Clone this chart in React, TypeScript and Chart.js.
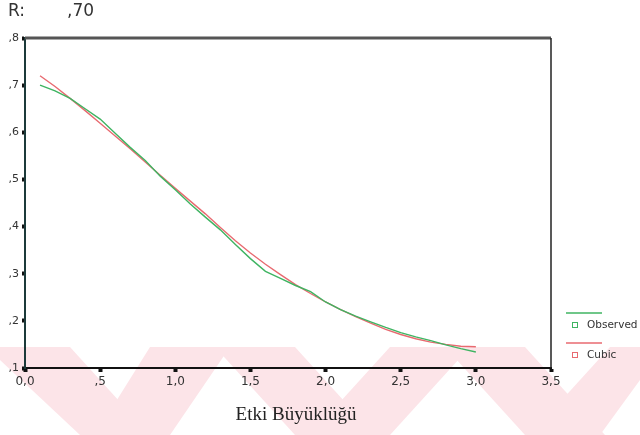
import React, { useEffect, useRef } from "react";
import { Chart, registerables } from "chart.js";

Chart.register(...registerables);

const xValues = [0.1, 0.2, 0.3, 0.4, 0.5, 0.6, 0.7, 0.8, 0.9, 1.0, 1.1, 1.2, 1.3, 1.4, 1.5, 1.6, 1.7, 1.8, 1.9, 2.0, 2.1, 2.2, 2.3, 2.4, 2.5, 2.6, 2.7, 2.8, 2.9, 3.0];
const observed = [0.700, 0.688, 0.672, 0.650, 0.628, 0.598, 0.568, 0.540, 0.507, 0.478, 0.448, 0.420, 0.393, 0.362, 0.332, 0.305, 0.290, 0.275, 0.262, 0.240, 0.224, 0.210, 0.198, 0.186, 0.175, 0.166, 0.158, 0.149, 0.141, 0.134];
const cubic = [0.720, 0.697, 0.672, 0.646, 0.619, 0.592, 0.565, 0.537, 0.509, 0.481, 0.454, 0.427, 0.398, 0.370, 0.344, 0.320, 0.298, 0.277, 0.258, 0.240, 0.224, 0.209, 0.195, 0.182, 0.171, 0.162, 0.155, 0.150, 0.146, 0.145];
const xTickLabels = ["0,0", ",5", "1,0", "1,5", "2,0", "2,5", "3,0", "3,5"];
const yTickLabels = [",1", ",2", ",3", ",4", ",5", ",6", ",7", ",8"];
const seriesNames = ["Observed", "Cubic"];
const seriesColors = ["#3fb462", "#e86a70"];
const titleLabel = "R:";
const titleValue = ",70";
const xTitle = "Etki Büyüklüğü";

const decorPlugin = {
  id: "decor",
  beforeDraw(chart: any) {
    const ctx = chart.ctx;
    ctx.save();
    ctx.fillStyle = "#fce4e8";
    const top = 347, bot = 435;
    const polys: number[][][] = [
      [[0, top], [70, top], [150, bot], [80, bot], [0, 360]],
      [[150, top], [230, top], [170, bot], [95, bot]],
      [[215, top], [295, top], [375, bot], [295, bot]],
      [[390, top], [470, top], [390, bot], [310, bot]],
      [[445, top], [525, top], [605, bot], [525, bot]],
      [[610, top], [640, top], [640, 380], [600, bot], [530, bot]],
    ];
    for (const p of polys) {
      ctx.beginPath();
      ctx.moveTo(p[0][0], p[0][1]);
      for (let i = 1; i < p.length; i++) ctx.lineTo(p[i][0], p[i][1]);
      ctx.closePath();
      ctx.fill();
    }
    ctx.restore();
  },
  afterDraw(chart: any) {
    const ctx = chart.ctx;
    const a = chart.chartArea;
    ctx.save();
    ctx.strokeStyle = "#555";
    ctx.lineWidth = 3;
    ctx.beginPath();
    ctx.moveTo(a.left, a.top);
    ctx.lineTo(a.right, a.top);
    ctx.stroke();
    ctx.strokeStyle = "#222";
    ctx.lineWidth = 1.5;
    ctx.beginPath();
    ctx.moveTo(a.right, a.top);
    ctx.lineTo(a.right, a.bottom);
    ctx.stroke();
    ctx.fillStyle = "#333";
    ctx.font = "17px 'DejaVu Sans'";
    ctx.textBaseline = "middle";
    ctx.textAlign = "left";
    ctx.fillText(titleLabel, 8, 12);
    ctx.fillText(titleValue, 67, 12);
    ctx.font = "19px 'Liberation Serif'";
    ctx.textAlign = "center";
    ctx.fillStyle = "#222";
    ctx.fillText(xTitle, 296, 415);
    const lx = 566, ly = [313, 343];
    ctx.font = "10.5px 'DejaVu Sans'";
    ctx.textAlign = "left";
    seriesNames.forEach((name, i) => {
      ctx.strokeStyle = seriesColors[i];
      ctx.lineWidth = 1.3;
      ctx.beginPath();
      ctx.moveTo(lx, ly[i]);
      ctx.lineTo(lx + 36, ly[i]);
      ctx.stroke();
      ctx.lineWidth = 1;
      ctx.strokeRect(572.5, ly[i] + 9.5, 5, 5);
      ctx.fillStyle = "#333";
      ctx.fillText(name, 587, ly[i] + 12.5);
    });
    ctx.restore();
  },
};

export default function App() {
  const ref = useRef<HTMLCanvasElement>(null);
  useEffect(() => {
    const chart = new Chart(ref.current!, {
      type: "line",
      data: {
        datasets: [observed, cubic].map((vals, i) => ({
          label: seriesNames[i],
          data: xValues.map((x, j) => ({ x, y: vals[j] })),
          borderColor: seriesColors[i],
          borderWidth: 1.4,
          pointRadius: 0,
          tension: 0,
          fill: false,
        })),
      },
      options: {
        animation: false,
        responsive: false,
        layout: { padding: { top: 38, right: 89, left: 0, bottom: 0 } },
        plugins: { legend: { display: false }, tooltip: { enabled: false }, title: { display: false } },
        scales: {
          x: {
            type: "linear",
            min: 0,
            max: 3.5,
            afterFit: (s: any) => { s.height = 67; },
            ticks: {
              stepSize: 0.5,
              padding: 3,
              color: "#333",
              font: { family: "'DejaVu Sans'", size: 12 },
              maxRotation: 0,
              callback: (_v: any, i: number) => xTickLabels[i],
            },
            grid: { drawOnChartArea: false, drawTicks: true, tickLength: 4, tickWidth: 4, color: "#111", offset: false },
            border: { display: true, color: "#111", width: 2 },
          },
          y: {
            type: "linear",
            min: 0.1,
            max: 0.8,
            afterFit: (s: any) => { s.width = 25; },
            ticks: {
              stepSize: 0.1,
              padding: 3,
              color: "#333",
              font: { family: "'DejaVu Sans'", size: 11 },
              callback: (_v: any, i: number) => yTickLabels[i],
            },
            grid: { drawOnChartArea: false, drawTicks: true, tickLength: 3, tickWidth: 4, color: "#111" },
            border: { display: true, color: "#1c3a3a", width: 2 },
          },
        },
      },
      plugins: [decorPlugin],
    });
    return () => chart.destroy();
  }, []);
  return (
    <div style={{ position: "fixed", left: 0, top: 0, width: 640, height: 435, background: "#fff" }}>
      <canvas ref={ref} width={640} height={435} />
    </div>
  );
}
